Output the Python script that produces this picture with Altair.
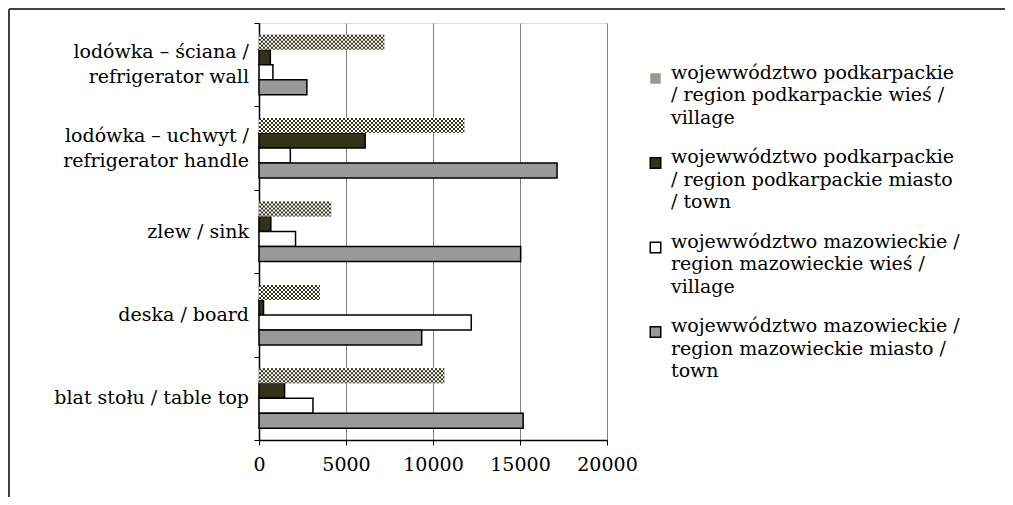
import altair as alt
import pandas as pd

CATEGORIES = [
    "lodówka – ściana /\nrefrigerator wall",
    "lodówka – uchwyt /\nrefrigerator handle",
    "zlew / sink",
    "deska / board",
    "blat stołu / table top",
]
SERIES = [
    "wojewwództwo podkarpackie\n/ region podkarpackie wieś /\nvillage",
    "wojewwództwo podkarpackie\n/ region podkarpackie miasto\n/ town",
    "wojewwództwo mazowieckie /\nregion mazowieckie wieś /\nvillage",
    "wojewwództwo mazowieckie /\nregion mazowieckie  miasto /\ntown",
]
PODK_VILLAGE = [7200, 11800, 4150, 3500, 10650]
PODK_TOWN = [650, 6100, 680, 260, 1470]
MAZ_VILLAGE = [800, 1800, 2100, 12200, 3100]
MAZ_TOWN = [2750, 17130, 15040, 9350, 15180]
X_TICKS = [0, 5000, 10000, 15000, 20000]

rows = []
for s, vals in zip(SERIES, [PODK_VILLAGE, PODK_TOWN, MAZ_VILLAGE, MAZ_TOWN]):
    for c, v in zip(CATEGORIES, vals):
        rows.append({"category": c, "series": s, "value": v, "zero": 0})
df = pd.DataFrame(rows)
chk = df[df["series"] == SERIES[0]]

# category label lines (for centred multi-line labels)
lab_rows = []
for c in CATEGORIES:
    parts = c.split("\n")
    for i, p in enumerate(parts):
        kind = "single" if len(parts) == 1 else ("first" if i == 0 else "second")
        lab_rows.append({"category": c, "text": p, "kind": kind})
lab_df = pd.DataFrame(lab_rows)

FONT = "DejaVu Serif, serif"
FS = 19
LH = 25
W, H = 348, 417
PO = 0.78
step = H / len(CATEGORIES)
sub = step / (len(SERIES) + 2 * PO)
chk_top = PO * sub - step / 2  # relative to band centre

y_enc = alt.Y(
    "category:N", sort=CATEGORIES,
    scale=alt.Scale(paddingInner=0, paddingOuter=0),
    axis=alt.Axis(
        title=None, labels=False, tickBand="extent",
        domainColor="black", domainWidth=1.5, tickColor="black", tickSize=5,
    ),
)
yoff = alt.YOffset("series:N", sort=SERIES,
                   scale=alt.Scale(domain=SERIES, paddingInner=0, paddingOuter=PO))
x_scale = alt.Scale(domain=[0, 20000], nice=False)
x_enc = alt.X(
    "value:Q", scale=x_scale,
    axis=alt.Axis(
        title=None, values=X_TICKS, format="d", grid=True, gridColor="#808080", gridWidth=1,
        domainColor="black", domainWidth=1.5, tickColor="black", tickSize=5,
        labelFont=FONT, labelFontSize=FS, labelColor="black", labelPadding=10,
        labelFlush=False,
    ),
)
legend = alt.Legend(
    title=None, orient="none", legendX=387, legendY=46,
    labelExpr="split(datum.label, '\\n')",
    labelFont=FONT, labelFontSize=FS, labelColor="black", labelLimit=500,
    labelBaseline="alphabetic", labelOffset=6,
    symbolType="square", symbolSize=110, symbolStrokeWidth=1.5,
    rowPadding=19.5,
)

bars = alt.Chart(df).mark_bar(strokeWidth=1.5).encode(
    x=x_enc, y=y_enc, yOffset=yoff,
    fill=alt.Fill("series:N", sort=SERIES,
                  scale=alt.Scale(domain=SERIES, range=["#99998c", "#333319", "#ffffff", "#999999"]),
                  legend=legend),
    stroke=alt.Stroke("series:N", sort=SERIES,
                      scale=alt.Scale(domain=SERIES, range=["transparent", "black", "black", "black"]),
                      legend=legend),
)

chk_base = alt.Chart(chk).mark_bar(fill="white", strokeWidth=0).encode(
    x=alt.X("value:Q", scale=x_scale), y=alt.Y("category:N", sort=CATEGORIES), yOffset=yoff,
)

checker_layers = []
n_rows = 8
for k in range(n_rows):
    wdt = 2 if k < n_rows - 1 else max(sub - 2 * (n_rows - 1), 0.5)
    off = chk_top + 2 * k + wdt / 2
    checker_layers.append(
        alt.Chart(chk).mark_rule(
            color="#333319", strokeWidth=wdt, strokeDash=[2, 2],
            strokeDashOffset=2 * (k % 2), yOffset=off,
        ).encode(
            x=alt.X("zero:Q", scale=x_scale),
            x2="value:Q",
            y=alt.Y("category:N", sort=CATEGORIES),
        )
    )

label_layers = []
for kind, off in [("single", 0), ("first", -LH / 2), ("second", LH / 2)]:
    label_layers.append(
        alt.Chart(lab_df[lab_df["kind"] == kind]).mark_text(
            align="right", baseline="middle", font=FONT, fontSize=FS, color="black",
            yOffset=off,
        ).encode(
            x=alt.value(-10),
            y=alt.Y("category:N", sort=CATEGORIES),
            text="text:N",
        )
    )

frame_data = alt.Data(values=[{"a": 1}])
frame_top = alt.Chart(frame_data).mark_rule(color="#404040", strokeWidth=2).encode(
    x=alt.value(-250), x2=alt.value(760), y=alt.value(-14))
frame_left = alt.Chart(frame_data).mark_rule(color="#404040", strokeWidth=2).encode(
    x=alt.value(-250), y=alt.value(-14), y2=alt.value(480))

chart = alt.layer(bars, chk_base, *checker_layers, *label_layers, frame_top, frame_left).properties(
    width=W, height=H,
    autosize=alt.AutoSizeParams(type="none"),
    padding={"left": 251, "top": 15, "right": 398, "bottom": 57},
).configure_view(stroke="#808080", strokeWidth=2).configure(
    background="white",
    font=FONT,
    style={"guide-label": {"lineHeight": 22.5, "font": FONT, "fontSize": FS}},
).configure_axis(labelFont=FONT).configure_legend(labelFont=FONT)

chart.save("out.html", embed_options={"renderer": "svg", "actions": False})
